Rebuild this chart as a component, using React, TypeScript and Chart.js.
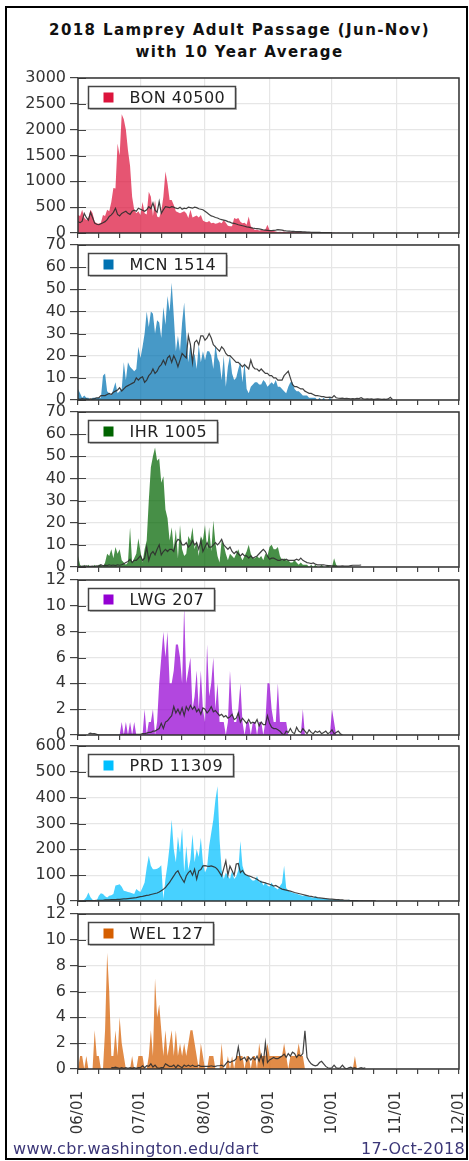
import React, { useEffect, useRef } from "react";
import { Chart, registerables } from "chart.js";

Chart.register(...registerables);

// ---- x axis (day index from 06/01) ----
const MONTH_DAYS = [0, 30, 61, 92, 122, 153, 183];
const MONTH_LABELS = ["06/01", "07/01", "08/01", "09/01", "10/01", "11/01", "12/01"];
const MINOR_DAYS = [10, 20, 40, 50, 71, 81, 102, 112, 132, 142, 163, 173];

// ---- data (daily counts, 2018 and 10-year average) ----
const BON_2018 = [
  350, 330, 450, 300, 250, 300, 450, 380, 220, 190,
  180, 200, 350, 330, 450, 420, 600, 870, 860, 1730,
  1500, 2300, 2200, 2000, 1600, 1300, 700, 450, 380, 420,
  350, 600, 380, 360, 800, 700, 330, 640, 320, 300,
  420, 700, 1190, 960, 640, 640, 540, 420, 400, 380,
  400, 420, 380, 290, 450, 300, 320, 340, 300, 350,
  240, 220, 210, 230, 190, 200, 180, 190, 210, 190,
  250, 200, 140, 130, 130, 290, 270, 290, 220, 190,
  200, 160, 320, 130, 90, 60, 70, 50, 60, 55,
  70, 160, 60, 50, 40, 30, 20, 25, 20, 30,
  15, 20, 25, 20, 15, 20, 18, 15, 12, 15,
  10, 12, 8, 8, 6, 5, 6, 5, 4, 5,
  4, 3, 4, 3, 2, 3, 2, 2, 1, 2,
  1, 1, 1, 0, 1, 0, 0, 0,
];
const BON_AVG = [
  220, 200, 230, 380, 300, 250, 400, 300, 190, 170,
  160, 180, 200, 220, 260, 320, 350, 400, 480, 360,
  330, 380, 400, 420, 380, 360, 420, 440, 420, 480,
  460, 440, 420, 450, 510, 470, 580, 440, 400, 610,
  380, 450, 510, 500, 490, 510, 500, 480, 470, 500,
  460, 480, 470, 500, 490, 480, 500, 490, 470, 460,
  450, 420, 390, 360, 330, 320, 300, 290, 270, 260,
  250, 240, 220, 210, 190, 185, 175, 160, 150, 140,
  130, 120, 115, 105, 96, 90, 85, 80, 70, 60,
  55, 50, 45, 45, 50, 55, 64, 60, 55, 45,
  40, 38, 35, 33, 30, 28, 26, 25, 22, 20,
  18, 17, 15, 14, 13, 12, 11, 10, 10, 9,
  8, 8, 7,
];

const MCN_2018 = [
  5, 3, 1, 2, 1, 1, 0, 1, 1, 1,
  1, 1, 11, 12, 4, 3, 2, 5, 8, 3,
  4, 5, 17, 9, 17, 15, 14, 13, 14, 24,
  19, 24, 30, 40, 33, 40, 39, 30, 36, 35,
  28, 42, 34, 47, 40, 53, 38, 22, 29, 22,
  35, 44, 29, 17, 26, 18, 21, 14, 25, 17,
  22, 18, 22, 22, 20, 14, 25, 19, 17, 9,
  20, 6, 15, 20, 12, 9, 10, 14, 17, 8,
  17, 5, 3, 6, 7, 8, 8, 7, 7, 9,
  8, 6, 7, 8, 7, 9, 6, 6, 5, 4,
  3, 6, 8, 8, 5, 4, 4, 3, 2, 2,
  2, 1, 1, 1, 1, 0, 1, 0, 1, 0,
  0, 1, 0, 0, 0, 0, 0, 0,
];
const MCN_AVG = [
  0.5, 0.3, 0.6, 0.4, 0.5, 0.3, 0.5, 0.4, 0.6, 1,
  1, 2, 2, 2, 2.5, 3, 2.5, 3.5, 4, 4.5,
  5.5, 4, 5, 6, 6.5, 7, 7.5, 8, 10, 9,
  10, 10.5, 8, 9, 11, 12, 14, 12, 13, 15,
  16, 18, 16, 19, 20, 17, 20, 18, 15, 18,
  21, 20, 19, 29, 25, 17, 26, 27, 25, 29,
  29, 27, 28, 30, 28, 25, 24, 23, 22, 24,
  23, 21, 20, 20, 19, 18, 17, 17, 16, 15,
  16, 15, 14, 18, 15, 14, 14, 13, 14, 13,
  12, 12, 11, 11, 10, 10, 9, 9, 9, 11,
  12, 13, 10, 7, 6, 6, 5.5, 5, 5, 4,
  3.5, 3, 3, 2.5, 2, 2, 1.8, 1.5, 1.5, 1.2,
  1.2, 1.3, 1, 2, 1, 0.8, 0.7, 0.8, 0.6, 0.7,
  0.6, 0.5, 0.6, 0.5, 0.7, 0.6, 1, 0.5, 0.4, 0.5,
  0.4, 0.5, 0.3, 0.4, 0.5, 0.4, 0.3, 0.4, 0.3, 0.5,
  1.2, 0.3,
];

const IHR_2018 = [
  5, 1, 0, 1, 0, 1, 0, 0, 1, 0,
  1, 1, 0, 2, 6, 5, 8, 4, 9, 6,
  8, 3, 2, 1, 2, 18, 2, 4, 6, 13,
  7, 2, 8, 12, 30, 45, 50, 54, 48, 49,
  38, 41, 26, 22, 12, 18, 8, 17, 4, 19,
  8, 5, 6, 14, 12, 18, 8, 12, 5, 14,
  12, 19, 8, 18, 7, 21, 11, 5, 2, 12,
  10, 6, 3, 6, 5, 4, 6, 8, 5, 3,
  5, 7, 10, 6, 4, 4, 5, 4, 5, 3,
  6, 5, 9, 10, 8, 8, 9, 5, 3, 4,
  3, 3, 2, 2, 3, 2, 1, 2, 1, 1,
  1, 0, 1, 0, 1, 0, 0, 1, 0, 0,
  1, 0, 0, 4, 1, 0, 0, 0, 0, 0,
  0, 0, 0, 0, 0, 0, 0, 0,
];
const IHR_AVG = [
  0.3, 0.2, 0.4, 0.3, 0.5, 0.2, 0.3, 0.4, 0.2, 0.5,
  0.4, 1, 0.5, 0.8, 0.6, 1, 0.7, 0.9, 0.6, 1,
  0.8, 1, 1.5, 2, 2.5, 3.5, 2, 3, 3, 4,
  5, 3, 4, 9, 3, 6, 7, 5.5, 8, 10,
  5.5, 7, 8, 7, 8, 8, 7, 11, 12.5, 12,
  10, 10, 11, 9, 10, 12, 10, 11, 8, 12,
  7, 9, 11, 9, 9, 10, 11, 10, 11, 12.5,
  10, 9, 8, 9, 7, 6, 7, 6, 5, 6,
  5, 5, 4, 5, 4, 4.5, 5, 6, 7, 8,
  7, 5, 3.5, 4, 4, 3.5, 3, 3, 3.5, 3,
  3.5, 3, 3, 3, 3, 3.5, 3, 4, 3, 2.5,
  2, 1.8, 1.5, 1.8, 1.3, 1, 1, 1, 1, 0.8,
  0.6, 0.6, 0.5, 0.5, 0.4, 0.4, 0.4, 0.5, 0.4, 0.4,
  0.4, 0.6, 0.8, 0.8, 0.8, 0.8, 0.9,
];

const LWG_2018 = [
  0, 0, 0, 0, 0, 0, 0, 0, 0, 0,
  0, 0, 0, 0, 0, 0, 0, 0, 0, 0,
  0, 1, 0, 1, 0, 1, 0, 1, 0, 0,
  0, 0, 2, 0, 1, 1, 2, 0, 1, 4,
  6, 8, 6, 8, 4, 4, 5, 7, 7, 6,
  4, 10, 4, 5, 6, 2, 3, 5, 2, 5,
  2, 1, 7, 3, 4, 6, 2, 4, 1, 1,
  1, 0, 1, 5, 2, 1, 1, 2, 4, 1,
  0, 1, 1, 0, 1, 1, 0, 1, 1, 0,
  1, 4, 4, 2, 1, 1, 4, 1, 1, 1,
  1, 0, 0, 0, 0, 0, 0, 0, 2, 0,
  0, 0, 0, 0, 0, 0, 0, 0, 0, 0,
  0, 0, 2, 1, 0, 0, 0, 0, 0, 0,
  0, 0, 0, 0, 0, 0, 0, 0,
];
const LWG_AVG = [
  null, null, null, null, null, 0.1, 0.15, 0.1, 0.1, 0.05,
  0, 0, 0, 0, 0, 0, 0, 0, 0, 0,
  0, 0.05, 0.05, 0.05, 0.05, 0.05, 0.05, 0.05, 0.05, 0.05,
  0.05, 0.1, 0.1, 0.15, 0.2, 0.2, 0.3, 0.3, 0.4, 0.5,
  0.9, 0.5, 1.0, 1.1, 1.3, 1.5, 2.2, 1.7, 2.0, 1.6,
  2.1, 1.5, 2.2, 1.9, 2.3, 2.0, 2.2, 1.8, 2.0, 1.6,
  2.1, 2.0, 1.7, 1.9, 2.2, 1.8, 1.9, 1.7, 1.5, 1.6,
  1.4, 1.5, 1.3, 1.4, 1.6, 1.2, 1.3, 1.7, 1.0, 1.3,
  1.1, 0.9, 1.2, 0.9, 1.0, 0.9, 1.2, 0.7, 1.0, 0.8,
  0.8, 1.5, 0.9, 0.6, 0.5, 0.5, 0.4, 0.3, 0.1, 0.0,
  0.3, 0.2, 0.5, 0.2, 0.1, 0.6, 0.3, 0.2, 0.5, 0.3,
  0.1, 0.4, 0.2, 0.1, 0.3, 0.2, 0.3, 0.1, 0.2, 0.3,
  0.1, 0.2, 0.4, 0.1, 0.2, 0.3, 0.1, 0.0,
];

const PRD_2018 = [
  0, 0, 0, 5, 15, 33, 15, 5, 0, 2,
  20, 30, 27, 18, 14, 20, 22, 27, 60, 62,
  65, 55, 40, 38, 35, 33, 30, 27, 46, 40,
  35, 52, 72, 130, 175, 136, 123, 123, 125, 130,
  138, 8, 85, 140, 213, 315, 200, 150, 250, 187,
  283, 110, 213, 120, 162, 258, 150, 200, 170, 245,
  150, 110, 130, 213, 264, 315, 392, 444, 238, 120,
  85, 110, 97, 85, 117, 85, 95, 120, 232, 136,
  110, 97, 97, 85, 78, 80, 97, 72, 80, 60,
  72, 60, 55, 72, 55, 50, 45, 58, 70, 136,
  50, 40, 35, 33, 30, 28, 25, 22, 20, 20,
  18, 16, 15, 12, 18, 12, 11, 10, 9, 8,
  8, 6, 6, 5, 5, 5, 4, 4, 3, 3,
  5, 3, 2, 2, 1, 1, 1, 1,
];
const PRD_AVG = [
  1, 1, 1, 1, 2, 2, 2, 2, 2, 3,
  3, 3, 3, 4, 4, 4, 5, 5, 5, 6,
  6, 7, 8, 8, 9, 10, 11, 12, 13, 15,
  17, 18, 20, 22, 23, 25, 27, 29, 31, 35,
  40, 45, 52, 62, 72, 85, 97, 110, 117, 100,
  85, 72, 97, 110, 117, 100, 123, 85, 117, 122,
  136, 137, 135, 134, 136, 133, 130, 122, 110, 97,
  125, 155, 100, 135, 118, 100, 143, 145, 110, 118,
  105, 100, 97, 95, 91, 88, 84, 78, 74, 72,
  70, 67, 65, 62, 58, 60, 55, 50, 46, 44,
  42, 40, 38, 36, 33, 31, 29, 27, 25, 23,
  21, 19, 18, 16, 15, 13, 12, 11, 10, 9,
  8, 7, 7, 6, 5, 5, 4, 4, 3, 3,
  3, 2, 2, 2, 2, 1, 1, 1, 1, 1,
  1, 1, 1, 1,
];

const WEL_2018 = [
  0, 1, 1, 0, 1, 0, 0, 0, 3, 1,
  1, 0, 0, 3, 9, 6, 1, 1, 3, 1,
  4, 2, 1, 0, 0, 0, 1, 0, 0, 1,
  1, 1, 0, 0, 1, 3, 1, 7, 4, 5,
  3, 1, 3, 1, 2, 3, 1, 3, 1, 2,
  1, 2, 1, 2, 3, 3, 2, 1, 0, 2,
  1, 0, 0, 1, 1, 1, 0, 0, 0, 2,
  0, 0, 1, 0, 1, 0, 1, 1, 1, 1,
  0, 1, 1, 0, 1, 1, 0, 2, 1, 1,
  1, 2, 1, 1, 1, 1, 1, 1, 1, 2,
  1, 0, 1, 1, 1, 1, 2, 1, 1, 0,
  0, 0, 0, 0, 0, 0, 0, 0, 0, 0,
  0, 0, 0, 0, 0, 0, 0, 0, 0, 0,
  0, 0, 0, 1, 0, 0, 0, 0,
];
const WEL_AVG = [
  null, null, null, null, null, null, null, null, null, null,
  null, null, null, null, null, null, 0.1, 0.1, 0.15, 0.1,
  0.05, 0.1, 0.05, 0.1, 0.05, 0.1, 0.05, 0.1, 0.05, 0.1,
  0.1, 0.25, 0.1, 0.25, 0.2, 0.4, 0.15, 0.3, 0.1, 0.05,
  0.1, 0.1, 0.4, 0.3, 0.2, 0.2, 0.3, 0.1, 0.3, 0.2,
  0.1, 0.3, 0.2, 0.3, 0.2, 0.3, 0.2, 0.2, 0.3, 0.2,
  0.2, 0.2, 0.2, 0.2, 0.25, 0.2, 0.2, 0.25, 0.25, 0.3,
  0.2, 0.4, 0.6, 0.5, 0.6, 0.65, 0.8, 1.7, 0.7, 0.8,
  0.9, 0.6, 0.9, 0.7, 0.9, 0.7, 1.0, 0.6, 1.1, 0.4,
  2.0, 0.5, 0.7, 0.8, 0.9, 0.8, 0.8, 0.9, 1.0, 1.15,
  0.9, 1.2, 1.0, 1.3, 1.2, 0.9, 1.1, 1.0, 1.2, 2.95,
  0.9, 0.6, 0.4, 0.3, 0.25, 0.3, 0.5, 0.6, 0.4, 0.2,
  0.1, 0.05, 0.1, 0.3, 0.1, 0.05, 0.1, 0.3, 0.1, 0.0,
  0.1, 0.15, 0.05, 0.1, 0.0, 0.05, 0.1, 0.05, 0.1,
];

const SITES = ["BON", "MCN", "IHR", "LWG", "PRD", "WEL"];
const TOTALS = [40500, 1514, 1005, 207, 11309, 127];
const Y_MAX = [3000, 70, 70, 12, 600, 12];
const Y_STEP = [500, 10, 10, 2, 100, 2];
const SERIES_2018 = [BON_2018, MCN_2018, IHR_2018, LWG_2018, PRD_2018, WEL_2018];
const SERIES_AVG = [BON_AVG, MCN_AVG, IHR_AVG, LWG_AVG, PRD_AVG, WEL_AVG];

// ---- styles / layout ----
const COLORS = ["#DC143C", "#0072B2", "#006400", "#9400D3", "#00BFFF", "#D55E00"];
const FILL_ALPHA = 0.72;
const PLOT_LEFT = 78;
const PLOT_RIGHT = 459;
const PLOT_TOPS = [78, 245, 412, 580, 746, 914];
const PLOT_H = 155;
const PAD_TOP = 12;
const XAXIS_H = 10;
const LAST_XAXIS_H = 74;
const W = 469;
const FONT = "'DejaVu Sans', Verdana, sans-serif";

function hexToRgba(hex: string, a: number) {
  const n = parseInt(hex.slice(1), 16);
  return `rgba(${(n >> 16) & 255},${(n >> 8) & 255},${n & 255},${a})`;
}

function Panel({ idx }: { idx: number }) {
  const ref = useRef<HTMLCanvasElement>(null);
  const last = idx === SITES.length - 1;
  const xh = last ? LAST_XAXIS_H : XAXIS_H;
  const height = PAD_TOP + PLOT_H + xh;

  useEffect(() => {
    const color = COLORS[idx];
    const label = `${SITES[idx]} ${TOTALS[idx]}`;
    const framePlugin = {
      id: "frameAndLegend",
      afterDraw(chart: any) {
        const { ctx, chartArea: a, scales } = chart;
        ctx.save();
        // inner y tick marks
        ctx.strokeStyle = "#444";
        ctx.lineWidth = 1;
        scales.y.ticks.forEach((t: any) => {
          const py = Math.round(scales.y.getPixelForValue(t.value)) + 0.5;
          ctx.beginPath();
          ctx.moveTo(a.left, py);
          ctx.lineTo(a.left + 8, py);
          ctx.stroke();
        });
        // frame
        ctx.lineWidth = 1.5;
        ctx.strokeStyle = "#333";
        ctx.strokeRect(a.left, a.top, a.right - a.left, a.bottom - a.top);
        // legend box
        ctx.font = `16px ${FONT}`;
        (ctx as any).letterSpacing = "0.5px";
        const tw = ctx.measureText(label).width;
        const bx = a.left + 10.5;
        const by = a.top + 8.5;
        const bw = Math.round(tw + 51);
        const bh = 22;
        ctx.fillStyle = "rgba(0,0,0,0.25)";
        ctx.fillRect(bx + 1.5, by + 1.5, bw, bh);
        ctx.fillStyle = "#fff";
        ctx.fillRect(bx, by, bw, bh);
        ctx.strokeStyle = "#444";
        ctx.lineWidth = 1.5;
        ctx.strokeRect(bx, by, bw, bh);
        ctx.fillStyle = color;
        ctx.fillRect(bx + 15, by + 6, 10, 10);
        ctx.fillStyle = "#222";
        ctx.textBaseline = "middle";
        ctx.textAlign = "left";
        ctx.fillText(label, bx + 41, by + bh / 2 + 1);
        ctx.restore();
      },
    };

    const chart = new Chart(ref.current as HTMLCanvasElement, {
      type: "line",
      data: {
        datasets: [
          {
            label: "10 Year Average",
            data: SERIES_AVG[idx].map((v, i) => ({ x: i, y: v })),
            borderColor: "rgba(45,45,45,0.9)",
            borderWidth: 1.2,
            pointRadius: 0,
            fill: false,
            tension: 0,
            order: 0,
          },
          {
            label: "2018",
            data: SERIES_2018[idx].map((v, i) => ({ x: i, y: v })),
            borderWidth: 0,
            borderColor: "rgba(0,0,0,0)",
            backgroundColor: hexToRgba(color, FILL_ALPHA),
            pointRadius: 0,
            fill: "origin",
            tension: 0,
            order: 1,
          },
        ] as any,
      },
      options: {
        animation: false,
        responsive: false,
        events: [],
        layout: { padding: { top: PAD_TOP, right: W - PLOT_RIGHT, left: 0, bottom: 0 } },
        plugins: { legend: { display: false }, tooltip: { enabled: false }, title: { display: false } },
        scales: {
          x: {
            type: "linear",
            min: 0,
            max: 183,
            border: { display: false },
            afterBuildTicks: (scale: any) => {
              scale.ticks = [...MONTH_DAYS, ...MINOR_DAYS].sort((p, q) => p - q).map((v) => ({ value: v }));
            },
            afterFit: (scale: any) => {
              scale.height = xh;
              scale.paddingLeft = 0;
              scale.paddingRight = 0;
            },
            grid: {
              color: (c: any) => (c.tick && MONTH_DAYS.includes(c.tick.value) ? "#e6e6e6" : "rgba(0,0,0,0)"),
              lineWidth: 1.2,
              tickColor: "#444",
              tickLength: 5,
              drawTicks: true,
            },
            ticks: {
              autoSkip: false,
              minRotation: 90,
              maxRotation: 90,
              padding: 17,
              color: "#333",
              font: { family: FONT, size: 15 },
              callback: (value: any) => {
                const k = MONTH_DAYS.indexOf(Number(value));
                return last && k >= 0 ? MONTH_LABELS[k] : "";
              },
            },
          },
          y: {
            min: 0,
            max: Y_MAX[idx],
            border: { display: false },
            afterFit: (scale: any) => {
              scale.width = PLOT_LEFT;
              scale.paddingTop = 0;
              scale.paddingBottom = 0;
            },
            grid: { color: "#e6e6e6", lineWidth: 1.2, tickColor: "#444", tickLength: 8 },
            ticks: {
              stepSize: Y_STEP[idx],
              autoSkip: false,
              padding: 4,
              color: "#333",
              font: { family: FONT, size: 16 },
              callback: (value: any) => String(value),
            },
          },
        },
      } as any,
      plugins: [framePlugin],
    });
    return () => chart.destroy();
  }, [idx]);

  return (
    <canvas
      ref={ref}
      width={W}
      height={height}
      style={{ position: "absolute", left: 0, top: PLOT_TOPS[idx] - PAD_TOP, width: W, height, display: "block" }}
    />
  );
}

export default function App() {
  return (
    <div style={{ position: "absolute", left: 0, top: 0, width: W, height: 1161, background: "#fff", overflow: "hidden" }}>
      <div
        style={{
          position: "absolute",
          left: 5,
          top: 6,
          width: 463,
          height: 1154,
          border: "2px solid #000",
          boxSizing: "border-box",
        }}
      />
      <div
        style={{
          position: "absolute",
          left: 10,
          width: 459,
          top: 19,
          textAlign: "center",
          fontFamily: FONT,
          fontWeight: "bold",
          fontSize: 15,
          lineHeight: "22px",
          letterSpacing: "1.4px",
          color: "#111",
        }}
      >
        2018 Lamprey Adult Passage (Jun-Nov)
        <br />
        with 10 Year Average
      </div>
      {SITES.map((_, i) => (
        <Panel key={i} idx={i} />
      ))}
      <div
        style={{
          position: "absolute",
          left: 13,
          top: 1140,
          fontFamily: FONT,
          fontSize: 16,
          lineHeight: "18px",
          letterSpacing: "0.3px",
          color: "#3c3778",
          whiteSpace: "nowrap",
        }}
      >
        www.cbr.washington.edu/dart
      </div>
      <div
        style={{
          position: "absolute",
          right: 4,
          top: 1140,
          fontFamily: FONT,
          fontSize: 16,
          lineHeight: "18px",
          letterSpacing: "0.3px",
          color: "#3c3778",
          whiteSpace: "nowrap",
        }}
      >
        17-Oct-2018
      </div>
    </div>
  );
}
